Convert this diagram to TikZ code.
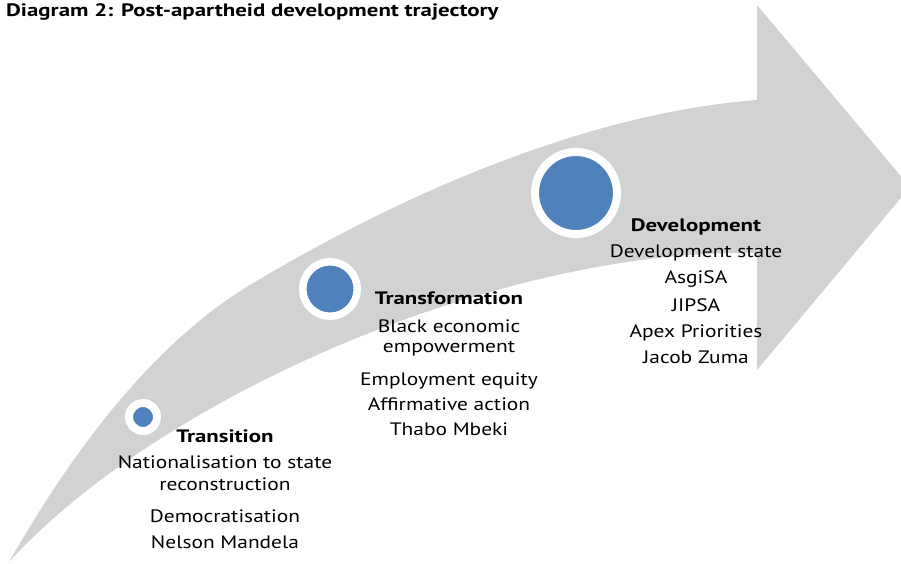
\documentclass[tikz,border=0pt]{standalone}
\usepackage{fontspec}
\setmainfont{PT Sans}
\newfontfamily\bodyfont{PT Sans}[FakeStretch=1.19]
\newfontfamily\headfont{PT Sans}[FakeStretch=1.27]
\definecolor{arrowgray}{HTML}{D1D2D4}
\definecolor{dotblue}{HTML}{4F81BD}
\begin{document}
\begin{tikzpicture}[x=1pt,y=-1pt,
  lbl/.style={anchor=base,inner sep=0pt,font=\bodyfont\fontsize{18}{22}\selectfont},
  head/.style={anchor=base,inner sep=0pt,font=\headfont\bfseries\fontsize{18}{22}\selectfont},
  dot/.style={circle,inner sep=0pt,fill=dotblue,draw=white}]
\useasboundingbox (0,0) rectangle (901,564);
\begin{scope}
\clip (0,0) rectangle (901,564);
\fill[arrowgray] (9,562) .. controls (89,422) and (170,333) .. (250,285)
  .. controls (420,183) and (600,112) .. (757,100)
  -- (757,5) -- (910,187) -- (757,370) -- (757,253)
  .. controls (500,248) and (159,397) .. (9,562) -- cycle;
\end{scope}
\node[anchor=base west,inner sep=0pt,font=\headfont\bfseries\fontsize{18}{22}\selectfont] (title) at (6,17) {Diagram 2: Post-apartheid development trajectory};
% circles
\node[dot,minimum size=28pt,line width=8pt] (c1) at (143,417) {};
\node[dot,minimum size=54.5pt,line width=7.5pt] (c2) at (330,289) {};
\node[dot,minimum size=82pt,line width=8pt] (c3) at (576,193) {};
% Transition
\node[head] (t0) at (225,442) {Transition};
\node[lbl] (t1) at (225,468) {Nationalisation to state};
\node[lbl] (t2) at (225,490) {reconstruction};
\node[lbl] (t3) at (225,522) {Democratisation};
\node[lbl] (t4) at (225,548) {Nelson Mandela};
% Transformation
\node[head] (f0) at (449,304) {Transformation};
\node[lbl] (f1) at (449,332) {Black economic};
\node[lbl] (f2) at (449,352) {empowerment};
\node[lbl] (f3) at (449,385) {Employment equity};
\node[lbl] (f4) at (449,410) {Affirmative action};
\node[lbl] (f5) at (449,435) {Thabo Mbeki};
% Development
\node[head] (d0) at (696,231) {Development};
\node[lbl] (d1) at (696,257) {Development state};
\node[lbl] (d2) at (696,283) {AsgiSA};
\node[lbl] (d3) at (696,311) {JIPSA};
\node[lbl] (d4) at (696,337) {Apex Priorities};
\node[lbl] (d5) at (696,363) {Jacob Zuma};
\end{tikzpicture}
\end{document}
